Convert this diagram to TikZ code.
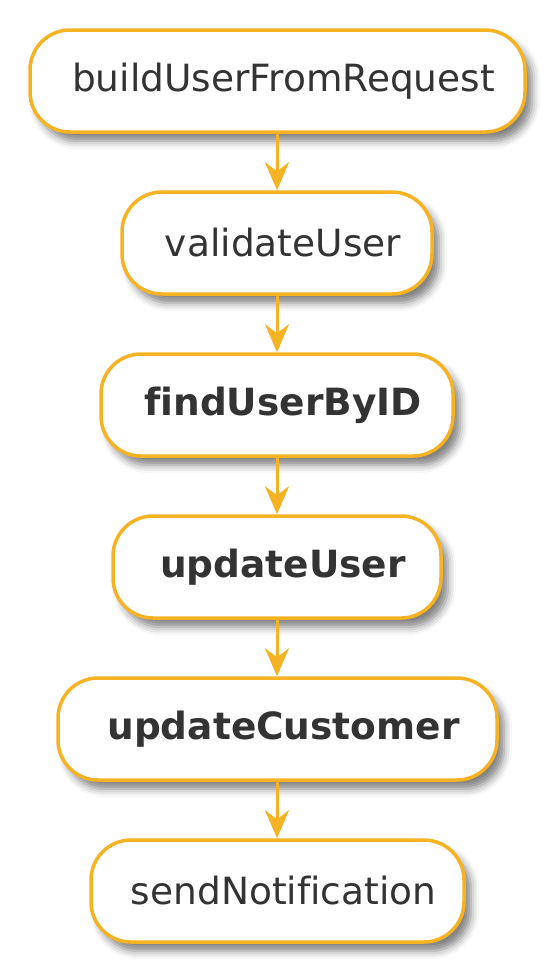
\documentclass[tikz,border=0pt]{standalone}
\usepackage{fontspec}
\setmainfont[Ligatures=NoCommon]{DejaVu Sans}
\usetikzlibrary{arrows.meta,shadows.blur}
\definecolor{boxline}{HTML}{F5B223}
\definecolor{txt}{HTML}{333333}
\tikzset{
  stepbox/.style={draw=boxline, line width=3.5pt, fill=white, rounded corners=40pt,
    minimum height=102pt, inner sep=0pt, text=txt, font=\fontsize{37.5}{40}\selectfont,
    blur shadow={shadow xshift=7pt, shadow yshift=-9pt, shadow blur radius=8pt, shadow opacity=50}},
  boldbox/.style={stepbox, font=\fontsize{37.5}{40}\selectfont\bfseries},
  flow/.style={draw=boxline, line width=3pt, -{Stealth[length=28pt,width=24pt,inset=9pt]}}
}
\begin{document}
\begin{tikzpicture}[x=1pt,y=-1pt]
\useasboundingbox (0,0) rectangle (558,972);
\node[stepbox, minimum width=495pt] (a) at (277.5,81) {\hspace{12pt}buildUserFromRequest};
\node[stepbox, minimum width=310pt] (b) at (277,243) {\hspace{12pt}validateUser};
\node[boldbox, minimum width=352pt] (c) at (277,405) {\hspace{12pt}findUserByID};
\node[boldbox, minimum width=328pt] (d) at (277,567) {\hspace{12pt}updateUser};
\node[boldbox, minimum width=439pt] (e) at (277.5,729) {\hspace{12pt}updateCustomer};
\node[stepbox, minimum width=373pt] (f) at (277.5,891) {\hspace{12pt}sendNotification};
\draw[flow] (a.south -| 277,0) -- (b.north -| 277,0);
\draw[flow] (b.south -| 277,0) -- (c.north -| 277,0);
\draw[flow] (c.south -| 277,0) -- (d.north -| 277,0);
\draw[flow] (d.south -| 277,0) -- (e.north -| 277,0);
\draw[flow] (e.south -| 277,0) -- (f.north -| 277,0);
\end{tikzpicture}
\end{document}
